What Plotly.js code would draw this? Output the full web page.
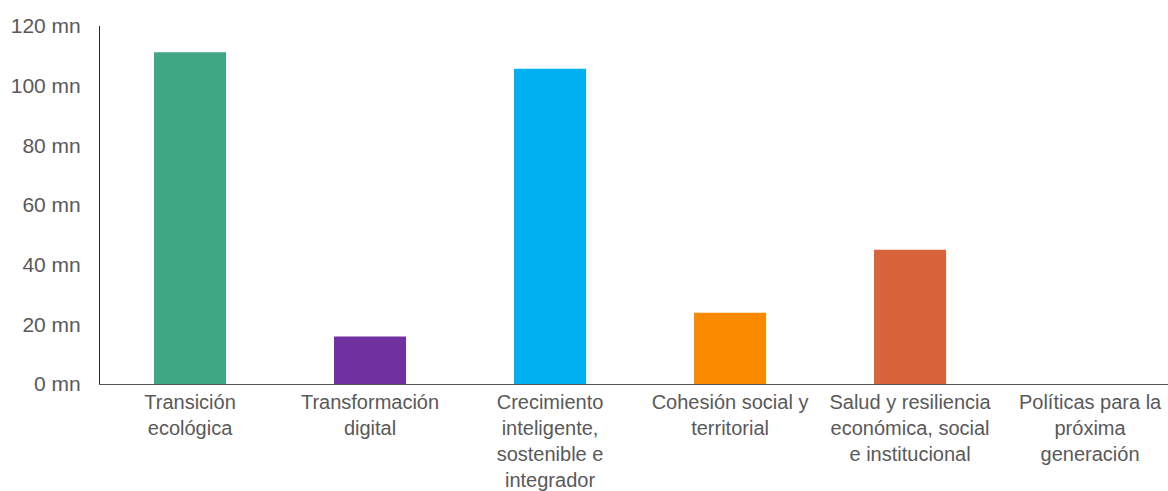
<!DOCTYPE html>
<html>
<head>
<meta charset="utf-8">
<script src="https://cdn.plot.ly/plotly-3.0.1.min.js"></script>
<style>html,body{margin:0;padding:0;background:#fff;overflow:hidden}</style>
</head>
<body>
<div id="chart" style="width:1168px;height:491px"></div>
<script>
const categories = [
  "Transición<br>ecológica",
  "Transformación<br>digital",
  "Crecimiento<br>inteligente,<br>sostenible e<br>integrador",
  "Cohesión social y<br>territorial",
  "Salud y resiliencia<br>económica, social<br>e institucional",
  "Políticas para la<br>próxima<br>generación"
];
const values = [111.2, 15.9, 105.7, 23.9, 45.0, 0];
const colors = ["#3FA784", "#7030A0", "#00B0F0", "#F98A00", "#D9633A", "#A5A5A5"];
const yTicks = [0, 20, 40, 60, 80, 100, 120];

const trace = {
  type: "bar",
  x: categories.map((c, i) => i),
  y: values,
  marker: {color: colors},
  hoverinfo: "none"
};

const layout = {
  width: 1168,
  height: 491,
  margin: {l: 100, r: 0, t: 26, b: 107},
  paper_bgcolor: "#fff",
  plot_bgcolor: "#fff",
  bargap: 0.6,
  showlegend: false,
  font: {family: "Liberation Sans, Arial, sans-serif", size: 20, color: "#595959"},
  xaxis: {
    range: [-0.5, 5.433],
    tickmode: "array",
    tickvals: categories.map((c, i) => i),
    ticktext: categories,
    tickangle: 0,
    tickfont: {size: 20},
    ticklabelstandoff: 0,
    showgrid: false,
    zeroline: false,
    showline: true,
    linecolor: "#595959",
    linewidth: 1.3,
    ticks: "",
    fixedrange: true
  },
  yaxis: {
    range: [0, 120],
    tickmode: "array",
    tickvals: yTicks,
    ticktext: yTicks.map(v => v + " mn"),
    tickfont: {size: 21},
    showgrid: false,
    zeroline: false,
    showline: true,
    linecolor: "#262626",
    linewidth: 1,
    ticks: "",
    ticklabelstandoff: 14,
    fixedrange: true
  }
};

Plotly.newPlot("chart", [trace], layout, {displayModeBar: false, staticPlot: true});
</script>
</body>
</html>
